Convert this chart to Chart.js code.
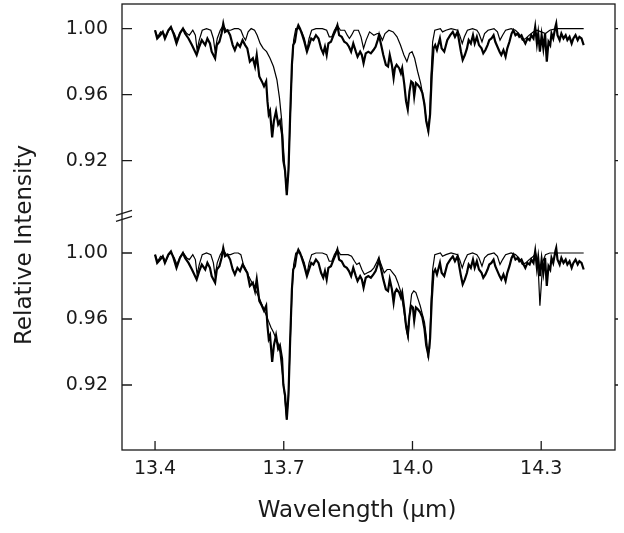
<!DOCTYPE html>
<html>
<head>
<meta charset="utf-8">
<script src="https://cdn.jsdelivr.net/npm/chart.js@4"></script>
<style>
  html, body { margin: 0; padding: 0; background: #fff; }
  #wrap { width: 624px; height: 533px; }
</style>
</head>
<body>
<div id="wrap"><canvas id="c" width="624" height="533"></canvas></div>
<script>
// ---------------- DATA ----------------
const xTicks = [13.4, 13.7, 14.0, 14.3];
const yTicks = [0.92, 0.96, 1.00];
const panelOffset = 0.136;   // vertical offset of the upper panel (axis units)

// observed spectrum (same in both panels)
const obsWave = [13.400,13.405,13.412,13.418,13.423,13.431,13.437,13.443,13.450,13.458,13.465,13.470,13.478,13.486,13.497,13.503,13.509,13.517,13.522,13.528,13.532,13.540,13.544,13.550,13.555,13.559,13.563,13.569,13.575,13.581,13.586,13.592,13.598,13.604,13.610,13.615,13.621,13.628,13.633,13.637,13.643,13.649,13.654,13.659,13.662,13.665,13.668,13.673,13.677,13.682,13.687,13.691,13.696,13.699,13.703,13.707,13.711,13.715,13.719,13.722,13.726,13.730,13.734,13.738,13.742,13.748,13.754,13.759,13.764,13.769,13.775,13.781,13.787,13.792,13.796,13.800,13.804,13.810,13.816,13.821,13.825,13.829,13.835,13.841,13.847,13.852,13.857,13.862,13.868,13.872,13.878,13.882,13.886,13.891,13.897,13.903,13.909,13.914,13.919,13.922,13.927,13.932,13.938,13.943,13.947,13.952,13.956,13.959,13.963,13.969,13.973,13.976,13.981,13.985,13.989,13.993,13.997,14.001,14.004,14.008,14.012,14.018,14.023,14.028,14.032,14.037,14.041,14.045,14.049,14.053,14.057,14.060,14.064,14.068,14.074,14.081,14.088,14.094,14.099,14.105,14.109,14.113,14.117,14.122,14.127,14.131,14.136,14.141,14.145,14.150,14.155,14.161,14.165,14.170,14.175,14.179,14.184,14.189,14.193,14.198,14.203,14.207,14.212,14.217,14.221,14.226,14.231,14.235,14.240,14.245,14.249,14.254,14.259,14.263,14.268,14.273,14.277,14.282,14.286,14.290,14.293,14.297,14.301,14.305,14.309,14.313,14.317,14.321,14.324,14.328,14.333,14.335,14.338,14.343,14.347,14.352,14.357,14.361,14.366,14.371,14.375,14.380,14.385,14.389,14.394,14.399];
const obsFlux = [0.999,0.994,0.996,0.998,0.994,0.999,1.001,0.997,0.991,0.997,1.000,0.997,0.994,0.990,0.984,0.989,0.993,0.990,0.994,0.991,0.986,0.982,0.990,0.992,0.997,1.003,0.998,0.999,0.996,0.990,0.987,0.991,0.989,0.993,0.990,0.988,0.980,0.982,0.977,0.984,0.971,0.968,0.965,0.968,0.956,0.948,0.950,0.934,0.944,0.950,0.942,0.944,0.936,0.920,0.914,0.899,0.914,0.948,0.978,0.990,0.992,0.999,1.002,1.000,0.997,0.992,0.986,0.990,0.994,0.993,0.996,0.994,0.988,0.985,0.989,0.984,0.991,0.992,0.996,0.999,1.002,0.996,0.995,0.992,0.991,0.989,0.986,0.991,0.986,0.983,0.986,0.984,0.979,0.985,0.986,0.985,0.987,0.989,0.993,0.996,0.990,0.984,0.978,0.977,0.984,0.978,0.970,0.976,0.978,0.976,0.973,0.976,0.966,0.956,0.951,0.962,0.968,0.967,0.959,0.967,0.966,0.964,0.961,0.954,0.944,0.938,0.948,0.972,0.988,0.990,0.987,0.990,0.994,0.988,0.986,0.993,0.996,0.998,0.995,0.998,0.992,0.986,0.981,0.984,0.988,0.993,0.991,0.996,0.991,0.995,0.990,0.988,0.985,0.987,0.990,0.993,0.994,0.996,0.992,0.989,0.986,0.984,0.987,0.983,0.988,0.992,0.997,0.999,0.996,0.997,0.995,0.996,0.993,0.991,0.994,0.993,0.996,0.994,1.001,0.991,0.997,0.986,0.996,0.988,0.997,0.980,0.992,0.990,0.997,0.994,1.001,1.003,0.996,0.993,0.997,0.994,0.996,0.993,0.995,0.991,0.994,0.996,0.993,0.995,0.994,0.990];

// model for the upper panel
const modelTopWave = [13.400,13.406,13.413,13.420,13.425,13.432,13.438,13.445,13.451,13.459,13.466,13.474,13.480,13.488,13.494,13.498,13.503,13.510,13.520,13.530,13.536,13.540,13.545,13.552,13.559,13.566,13.576,13.585,13.594,13.600,13.606,13.611,13.617,13.624,13.632,13.638,13.645,13.652,13.660,13.668,13.676,13.684,13.690,13.695,13.700,13.704,13.707,13.711,13.715,13.719,13.723,13.728,13.736,13.742,13.748,13.754,13.759,13.765,13.775,13.790,13.800,13.806,13.812,13.818,13.825,13.832,13.842,13.848,13.853,13.858,13.864,13.874,13.880,13.886,13.892,13.900,13.910,13.918,13.923,13.930,13.936,13.945,13.955,13.964,13.972,13.980,13.987,13.993,13.999,14.005,14.012,14.019,14.026,14.032,14.036,14.040,14.043,14.047,14.052,14.065,14.070,14.078,14.090,14.105,14.110,14.116,14.121,14.128,14.140,14.150,14.155,14.162,14.168,14.176,14.190,14.198,14.204,14.210,14.217,14.230,14.240,14.248,14.256,14.264,14.272,14.282,14.290,14.300,14.310,14.320,14.335,14.350,14.365,14.380,14.399];
const modelTopFlux = [0.999,0.995,0.998,0.997,0.995,0.999,1.000,0.997,0.993,0.998,1.000,0.997,0.996,0.999,0.996,0.987,0.993,0.999,1.000,0.999,0.994,0.986,0.994,0.999,1.002,0.999,0.999,1.000,1.000,0.999,0.995,0.993,0.998,1.000,0.999,0.996,0.991,0.988,0.986,0.982,0.977,0.969,0.958,0.945,0.925,0.910,0.900,0.915,0.945,0.975,0.993,1.000,1.000,0.998,0.994,0.987,0.994,0.999,1.000,1.000,0.999,0.995,0.995,0.999,1.002,0.999,0.999,0.996,0.994,0.996,0.999,0.999,0.995,0.988,0.993,0.998,0.996,0.997,0.997,0.993,0.997,0.999,0.998,0.995,0.990,0.984,0.980,0.985,0.986,0.982,0.974,0.967,0.957,0.945,0.939,0.946,0.970,0.992,0.999,1.000,0.998,0.999,1.000,0.999,0.996,0.991,0.995,0.999,1.000,0.999,0.997,0.992,0.997,0.999,1.000,0.998,0.993,0.996,0.999,1.000,0.999,0.997,0.993,0.994,0.996,0.998,0.999,0.998,0.997,0.999,1.000,1.000,1.000,1.000,1.000];

// model for the lower panel
const modelBotWave = [13.400,13.406,13.413,13.420,13.425,13.432,13.438,13.445,13.451,13.459,13.466,13.474,13.480,13.488,13.494,13.498,13.503,13.510,13.520,13.530,13.536,13.540,13.545,13.552,13.559,13.566,13.576,13.585,13.594,13.600,13.606,13.612,13.618,13.624,13.630,13.637,13.644,13.652,13.658,13.664,13.670,13.676,13.682,13.687,13.691,13.695,13.699,13.703,13.707,13.711,13.715,13.719,13.723,13.728,13.736,13.742,13.748,13.754,13.759,13.765,13.775,13.790,13.800,13.806,13.812,13.818,13.825,13.832,13.842,13.850,13.858,13.865,13.870,13.876,13.882,13.888,13.895,13.903,13.910,13.916,13.921,13.927,13.934,13.941,13.948,13.954,13.960,13.966,13.972,13.977,13.982,13.986,13.990,13.994,13.998,14.003,14.008,14.013,14.018,14.023,14.028,14.032,14.036,14.040,14.043,14.047,14.052,14.065,14.070,14.078,14.090,14.105,14.110,14.116,14.121,14.128,14.140,14.150,14.155,14.162,14.168,14.176,14.190,14.198,14.204,14.210,14.217,14.230,14.240,14.248,14.256,14.264,14.272,14.282,14.287,14.291,14.294,14.297,14.300,14.304,14.310,14.320,14.335,14.350,14.365,14.380,14.399];
const modelBotFlux = [0.999,0.995,0.998,0.997,0.995,0.999,1.000,0.997,0.993,0.998,1.000,0.997,0.996,0.999,0.996,0.987,0.993,0.999,1.000,0.999,0.994,0.986,0.994,0.999,1.002,0.999,0.999,1.000,1.000,0.999,0.993,0.990,0.986,0.983,0.980,0.976,0.972,0.967,0.963,0.959,0.955,0.952,0.948,0.945,0.940,0.931,0.922,0.910,0.899,0.915,0.945,0.975,0.993,1.000,1.000,0.998,0.994,0.987,0.994,0.999,1.000,1.000,0.999,0.995,0.995,0.999,1.002,0.999,0.999,0.999,0.998,0.995,0.993,0.994,0.990,0.987,0.988,0.989,0.991,0.994,0.997,0.993,0.988,0.990,0.990,0.988,0.986,0.982,0.977,0.970,0.961,0.953,0.948,0.966,0.975,0.977,0.976,0.972,0.968,0.963,0.958,0.950,0.938,0.942,0.968,0.990,0.999,1.000,0.998,0.999,1.000,0.999,0.996,0.991,0.995,0.999,1.000,0.999,0.997,0.992,0.997,0.999,1.000,0.998,0.993,0.996,0.999,1.000,0.999,0.997,0.993,0.994,0.996,0.998,1.000,0.996,0.985,0.968,0.980,0.995,0.999,1.000,1.000,1.000,1.000,1.000,1.000];

// ---------------- BUILD ----------------
const pts = (w, f, off) => w.map((x, i) => ({ x: x, y: f[i] + off }));
const FONT = '"DejaVu Sans", sans-serif';
const INK = '#1a1a1a';

const framePlugin = {
  id: 'frame',
  afterDraw(chart) {
    const { ctx, chartArea: a, scales } = chart;
    const xs = scales.x, ys = scales.y;
    ctx.save();
    ctx.strokeStyle = INK;
    ctx.lineWidth = 1.3;
    ctx.strokeRect(a.left, a.top, a.right - a.left, a.bottom - a.top);
    ctx.beginPath();
    xTicks.forEach(v => {
      const px = xs.getPixelForValue(v);
      ctx.moveTo(px, a.bottom); ctx.lineTo(px, a.bottom - 9);
    });
    ys.ticks.forEach(t => {
      const py = ys.getPixelForValue(t.value);
      ctx.moveTo(a.left, py); ctx.lineTo(a.left + 10, py);
      ctx.moveTo(a.right, py); ctx.lineTo(a.right + 3, py);
    });
    ctx.stroke();
    // axis break marks between the two panels
    const yb = ys.getPixelForValue(1.024);
    ctx.beginPath();
    ctx.moveTo(a.left - 6, yb + 2); ctx.lineTo(a.left + 10, yb - 3);
    ctx.moveTo(a.left - 6, yb + 8); ctx.lineTo(a.left + 10, yb + 3);
    ctx.stroke();
    // axis titles
    ctx.fillStyle = INK;
    ctx.font = '23px ' + FONT;
    ctx.textAlign = 'center';
    ctx.textBaseline = 'middle';
    ctx.fillText('Wavelength (\u03bcm)', 357, 511);
    ctx.translate(25, 245);
    ctx.rotate(-Math.PI / 2);
    ctx.fillText('Relative Intensity', 0, 0);
    ctx.restore();
  }
};

const lineDs = (data, w) => ({
  data: data, borderColor: '#000', borderWidth: w, pointRadius: 0,
  tension: 0, fill: false
});

new Chart(document.getElementById('c'), {
  type: 'line',
  data: {
    datasets: [
      lineDs(pts(modelTopWave, modelTopFlux, panelOffset), 1.2),
      lineDs(pts(obsWave, obsFlux, panelOffset), 2.2),
      lineDs(pts(modelBotWave, modelBotFlux, 0), 1.2),
      lineDs(pts(obsWave, obsFlux, 0), 2.2)
    ]
  },
  options: {
    responsive: false,
    animation: false,
    devicePixelRatio: 1,
    layout: { padding: { top: 4, right: 9, left: 0, bottom: 0 } },
    plugins: { legend: { display: false }, tooltip: { enabled: false } },
    scales: {
      x: {
        type: 'linear', min: 13.323, max: 14.472,
        afterBuildTicks: s => { s.ticks = xTicks.map(v => ({ value: v })); },
        afterFit: s => { s.height = 83; s.paddingLeft = 0; s.paddingRight = 0; },
        grid: { display: false, drawTicks: false },
        border: { display: false },
        ticks: {
          padding: 8, color: INK, font: { family: FONT, size: 19 },
          maxRotation: 0, autoSkip: false,
          callback: v => Number(v).toFixed(1)
        }
      },
      y: {
        type: 'linear', min: 0.8806, max: 1.1509,
        afterBuildTicks: s => {
          s.ticks = yTicks.map(v => ({ value: v }))
            .concat(yTicks.map(v => ({ value: v + panelOffset })));
        },
        afterFit: s => { s.width = 122; s.paddingTop = 0; s.paddingBottom = 0; },
        grid: { display: false, drawTicks: false },
        border: { display: false },
        ticks: {
          padding: 14, color: INK, font: { family: FONT, size: 19 },
          autoSkip: false,
          callback: v => (v > 1.05 ? v - panelOffset : v).toFixed(2)
        }
      }
    }
  },
  plugins: [framePlugin]
});
</script>
</body>
</html>
